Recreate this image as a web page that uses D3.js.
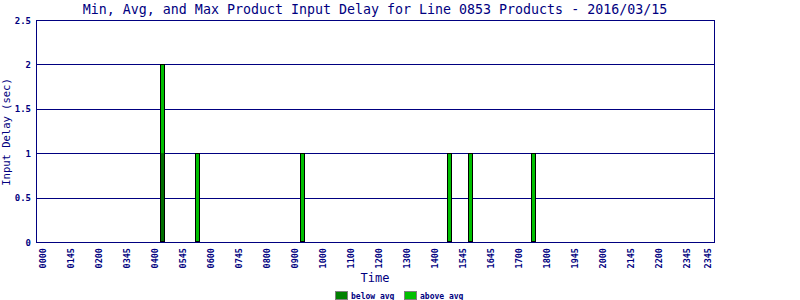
<!DOCTYPE html>
<html>
<head>
<meta charset="utf-8">
<script src="https://cdn.jsdelivr.net/npm/d3@7"></script>
<style>
  html, body { margin: 0; padding: 0; background: #fff; }
  svg { display: block; }
  text { font-family: "DejaVu Sans Mono", "Liberation Mono", monospace; fill: #000080; }
</style>
</head>
<body>
<div id="chart"></div>
<script>
// ---- data ----
const titleText = "Min, Avg, and Max Product Input Delay for Line 0853 Products - 2016/03/15";
const yTickValues = [0, 0.5, 1, 1.5, 2, 2.5];
const yTickLabels = ["0", "0.5", "1", "1.5", "2", "2.5"];
const tickSlots = ["0000","0100","0200","0300","0400","0500","0600","0700","0800","0900","1000","1100",
                   "1200","1300","1400","1500","1600","1700","1800","1900","2000","2100","2200","2300","2345"];
const tickLabels = ["0000","0145","0200","0345","0400","0545","0600","0745","0800","0900","1000","1100",
                    "1200","1300","1400","1545","1645","1700","1800","1945","2000","2145","2200","2345","2345"];
const barTimes = ["0415","0530","0915","1430","1515","1730"];
const belowAvg = [1, 0, 0, 0, 0, 0];
const aboveAvg = [1, 1, 1, 1, 1, 1];
const legendLabels = ["below avg", "above avg"];

// 15-minute time slots (categories)
const timeSlots = [];
for (let h = 0; h < 24; h++) for (let m = 0; m < 60; m += 15)
  timeSlots.push(String(h).padStart(2, "0") + String(m).padStart(2, "0"));

// ---- layout ----
const W = 800, H = 300;
const mLeft = 36, mRight = 715, mTop = 20, mBottom = 242;
const navy = "#000080";
const colBelow = "#007000", colAbove = "#00c000";
const legBelow = "#008000", legAbove = "#00c000";

const svg = d3.select("#chart").append("svg").attr("width", W).attr("height", H);

const x = d3.scalePoint().domain(timeSlots).range([mLeft, mRight]).padding(1);
const y = d3.scaleLinear().domain([0, 2.5]).range([mBottom, mTop]);

// title
svg.append("text").attr("x", 375).attr("y", 14).attr("text-anchor", "middle")
  .style("font-size", "13.3px").text(titleText);

// gridlines
svg.append("g").selectAll("line").data(yTickValues.filter(v => v > 0 && v < 2.5)).join("line")
  .attr("x1", mLeft).attr("x2", mRight)
  .attr("y1", d => Math.round(y(d)) + 0.5).attr("y2", d => Math.round(y(d)) + 0.5)
  .attr("stroke", navy).attr("stroke-width", 1).attr("shape-rendering", "crispEdges");

// bars
const bars = barTimes.map((t, i) => ({ t, b: belowAvg[i], a: aboveAvg[i] }));
const bg = svg.append("g").attr("shape-rendering", "crispEdges");
bars.forEach(d => {
  const cx = Math.round(x(d.t));
  const x0 = cx - 2;
  if (d.b > 0) {
    bg.append("rect").attr("x", x0).attr("width", 5)
      .attr("y", y(d.b)).attr("height", y(0) - y(d.b)).attr("fill", colBelow);
  }
  bg.append("rect").attr("x", x0).attr("width", 5)
    .attr("y", y(d.b + d.a)).attr("height", y(d.b) - y(d.b + d.a)).attr("fill", colAbove);
  bg.append("rect").attr("x", x0 + 0.5).attr("width", 4)
    .attr("y", Math.round(y(d.b + d.a)) + 0.5).attr("height", Math.round(y(0)) - Math.round(y(d.b + d.a)) - 1)
    .attr("fill", "none").attr("stroke", "#000").attr("stroke-width", 1);
});

// frame
svg.append("rect").attr("x", mLeft + 0.5).attr("y", mTop + 0.5)
  .attr("width", mRight - mLeft - 1).attr("height", mBottom - mTop)
  .attr("fill", "none").attr("stroke", navy).attr("stroke-width", 1)
  .attr("shape-rendering", "crispEdges");
svg.append("line").attr("x1", mLeft).attr("x2", mRight).attr("y1", mBottom + 0.5).attr("y2", mBottom + 0.5)
  .attr("stroke", navy).attr("stroke-width", 1).attr("shape-rendering", "crispEdges");

// y axis
const yAxis = d3.axisLeft(y).tickValues(yTickValues).tickSize(0).tickPadding(5)
  .tickFormat((d, i) => yTickLabels[i]);
const yg = svg.append("g").attr("transform", `translate(${mLeft},0)`).call(yAxis);
yg.select(".domain").remove();
yg.selectAll("text").style("font-size", "9px").style("font-weight", "bold")
  .attr("fill", navy).attr("dy", "0.35em");

// x axis
const xAxis = d3.axisBottom(x).tickValues(tickSlots).tickSize(0)
  .tickFormat((d, i) => tickLabels[i]);
const xg = svg.append("g").attr("transform", `translate(0,${mBottom})`).call(xAxis);
xg.select(".domain").remove();
xg.selectAll("text").style("font-size", "8.5px").style("font-weight", "bold")
  .attr("fill", navy)
  .attr("transform", "rotate(-90)")
  .attr("text-anchor", "end").attr("x", -6).attr("y", 0).attr("dy", "0.35em");

// axis titles
svg.append("text").attr("transform", "translate(10,132) rotate(-90)")
  .attr("text-anchor", "middle").style("font-size", "10.5px").text("Input Delay (sec)");
svg.append("text").attr("x", 375).attr("y", 282).attr("text-anchor", "middle")
  .style("font-size", "12px").text("Time");

// legend
const legend = svg.append("g");
[[335, legBelow, legendLabels[0]], [404, legAbove, legendLabels[1]]].forEach(([lx, c, t]) => {
  legend.append("rect").attr("x", lx + 0.5).attr("y", 291.5).attr("width", 12).attr("height", 8)
    .attr("fill", c).attr("stroke", "#808080").attr("stroke-width", 1).attr("shape-rendering", "crispEdges");
  legend.append("text").attr("x", lx + 16).attr("y", 298.5)
    .style("font-size", "8px").style("font-weight", "bold").text(t);
});
</script>
</body>
</html>
